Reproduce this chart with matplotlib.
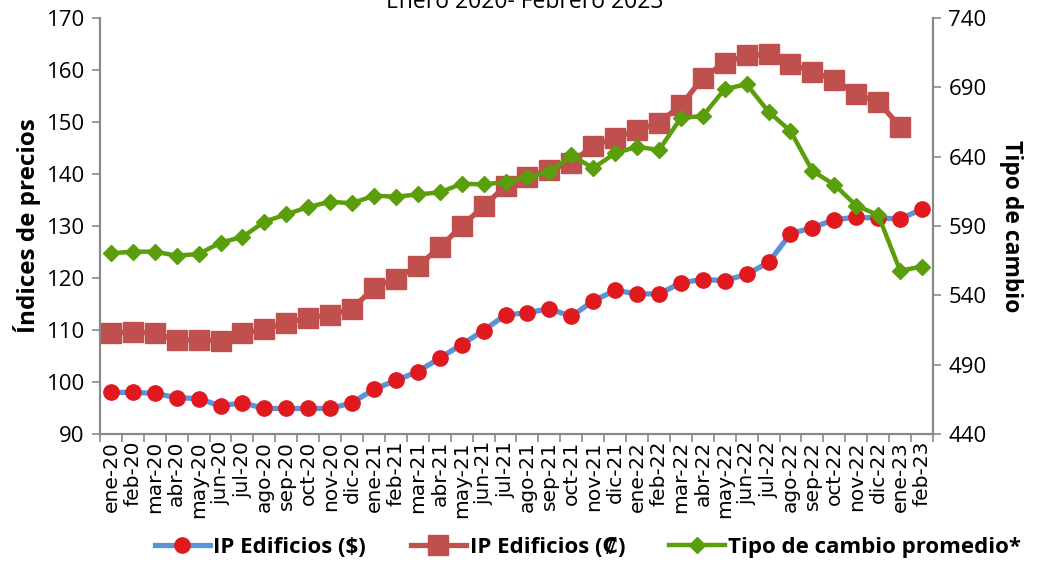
import numpy as np
import matplotlib
matplotlib.use("Agg")
import matplotlib.pyplot as plt
from matplotlib.ticker import FixedLocator

plt.rcParams['font.family'] = ['Open Sans', 'DejaVu Sans']

meses = ['ene', 'feb', 'mar', 'abr', 'may', 'jun', 'jul', 'ago', 'sep', 'oct', 'nov', 'dic']
etiquetas = [m + '-' + a for a in ['20', '21', '22'] for m in meses] + ['ene-23', 'feb-23']

ip_dolares = [98.0, 98.0, 97.8, 97.0, 96.8, 95.4, 96.0, 94.9, 94.9, 94.9, 94.9, 96.0,
              98.6, 100.3, 102.0, 104.6, 107.2, 109.9, 112.9, 113.3, 114.1, 112.6, 115.6, 117.6,
              117.0, 116.9, 119.1, 119.7, 119.5, 120.7, 123.0, 128.5, 129.7, 131.2, 131.7, 131.5,
              131.4, 133.2]
ip_colones = [109.5, 109.6, 109.4, 108.1, 108.1, 107.9, 109.4, 110.1, 111.4, 112.3, 112.9, 114.1,
              118.1, 119.9, 122.3, 125.9, 130.0, 133.8, 137.7, 139.5, 140.8, 142.2, 145.4, 147.0,
              148.4, 149.9, 153.2, 158.5, 161.4, 162.8, 163.0, 161.2, 159.7, 158.1, 155.3, 153.9,
              149.1]
tipo_cambio = [570.3, 571.5, 571.5, 568.6, 569.8, 578.0, 582.1, 593.1, 598.4, 603.7, 607.5, 606.4,
               611.9, 611.1, 612.8, 614.2, 620.5, 620.0, 621.7, 625.3, 628.7, 641.0, 631.8, 642.4,
               647.2, 644.8, 667.9, 669.3, 688.8, 692.2, 672.4, 658.5, 629.7, 619.8, 604.7, 597.9,
               557.8, 560.7]

gris = '#898989'
fig = plt.figure(figsize=(10.37, 5.72), dpi=100)
ax = fig.add_axes([0.0964, 0.2413, 0.8033, 0.7272])
ax2 = ax.twinx()

x = np.arange(len(etiquetas))
l1, = ax.plot(x, ip_dolares, color='#5B93D8', lw=3.8, marker='o', ms=11,
              mfc='#E0191F', mec='#E0191F', label='IP Edificios ($)')
l2, = ax.plot(x[:len(ip_colones)], ip_colones, color='#C0504D', lw=3.8, marker='s', ms=15,
              label='IP Edificios (₡)')
l3, = ax2.plot(x, tipo_cambio, color='#5A9E0B', lw=3.2, marker='D', ms=8,
               label='Tipo de cambio promedio*')

ax.set_xlim(-0.5, len(etiquetas) - 0.5)
ax.set_ylim(90, 170)
ax2.set_ylim(440, 740)
ax.set_yticks(np.arange(90, 171, 10))
ax2.set_yticks(np.arange(440, 741, 50))

ax.set_xticks(x)
ax.set_xticklabels(etiquetas, rotation=90, fontsize=14.5, family='DejaVu Sans')
ax.xaxis.set_minor_locator(FixedLocator(np.arange(-0.5, len(etiquetas), 1)))
ax.tick_params(axis='x', which='major', length=0, pad=5)
ax.tick_params(axis='x', which='minor', length=6, color=gris, width=1.2)
ax.tick_params(axis='y', labelsize=16, length=6, color=gris, width=1.2, pad=5)
ax2.tick_params(axis='y', labelsize=16, length=6, color=gris, width=1.2, pad=5)

for a in (ax, ax2):
    a.spines['top'].set_visible(False)
    for s in ['left', 'right', 'bottom']:
        a.spines[s].set_color(gris)
        a.spines[s].set_linewidth(1.5)

ax.set_ylabel('Índices de precios', fontsize=17.5, fontweight='bold', labelpad=4)
ax2.set_ylabel('Tipo de cambio', fontsize=16.5, fontweight='bold', rotation=-90, labelpad=26)

fig.text(0.506, 0.996, 'Enero 2020- Febrero 2023', ha='center', va='center', fontsize=16.5)

leg = fig.legend(handles=[l1, l2, l3], loc='center', bbox_to_anchor=(0.567, 0.043), ncol=3,
                 frameon=False, handlelength=2.5, columnspacing=2.0, handletextpad=0.15,
                 prop={'size': 16, 'weight': 'bold', 'family': ['Open Sans', 'DejaVu Sans']})

fig.savefig('out.png', dpi=100)
